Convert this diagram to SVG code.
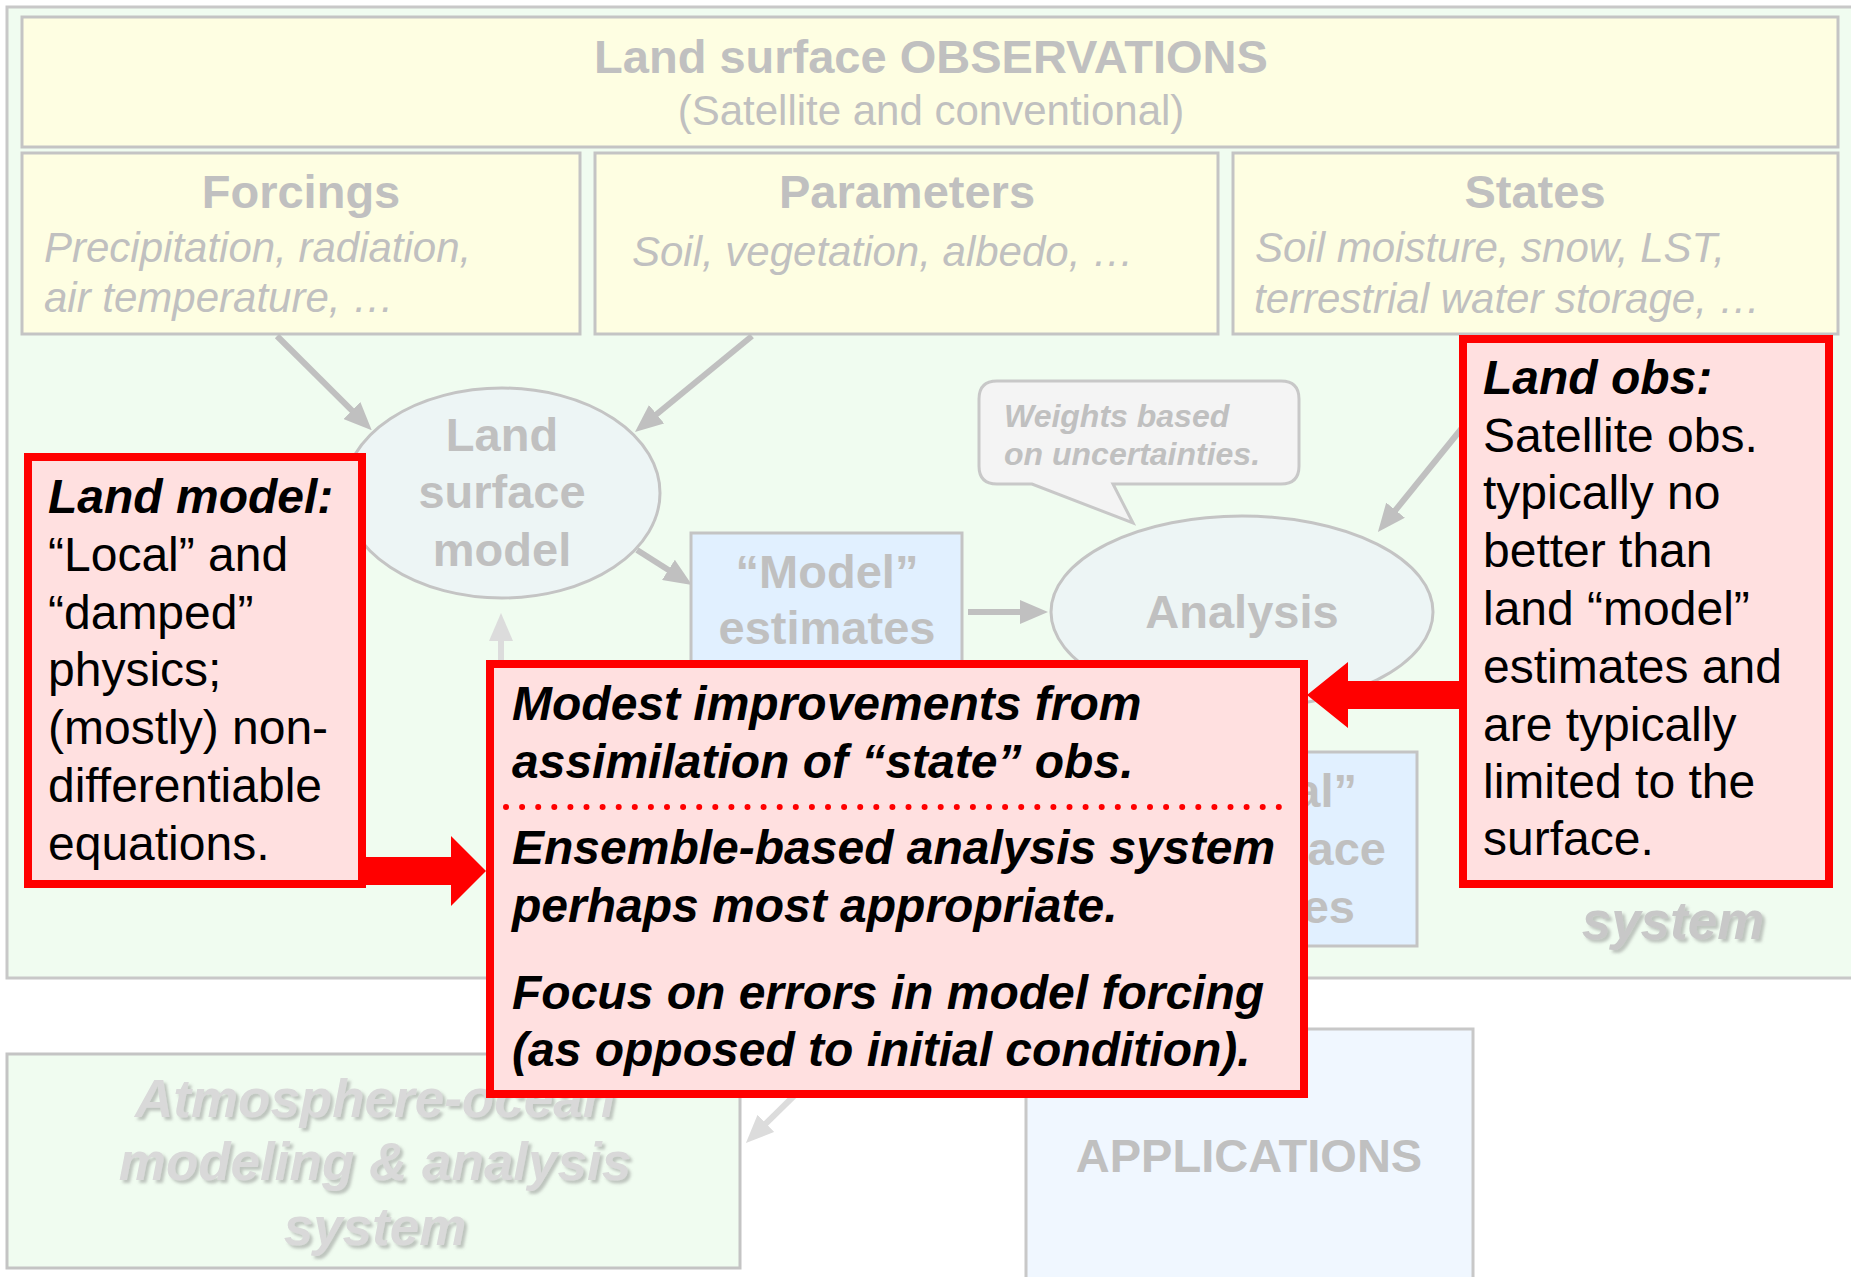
<svg xmlns="http://www.w3.org/2000/svg" width="1851" height="1277" viewBox="0 0 1851 1277">
<defs>
<style>
text{font-family:"Liberation Sans",Arial,Helvetica,sans-serif}
.box{fill:#fefee2;stroke:#c4c4c4;stroke-width:3}
.hd{font-size:47px;font-weight:bold;fill:#c0c0c0;text-anchor:middle}
.it{font-size:42px;font-style:italic;fill:#c0c0c0}
.ell{fill:#edf5f5;stroke:#c4c4c4;stroke-width:3}
.est{fill:#e1f0ff;stroke:#c4c4c4;stroke-width:3}
.conn{stroke:#c0c0c0;stroke-width:6;fill:none;marker-end:url(#ah)}
.faint{stroke:#dcdcdc;stroke-width:6;fill:none;marker-end:url(#ahf)}
.red{fill:#ffe0e0;stroke:#ff0000;stroke-width:8}
.rt{font-size:48px;fill:#000000}
.bi{font-weight:bold;font-style:italic}
.sys{font-size:53px;font-weight:bold;font-style:italic;text-anchor:middle;filter:url(#sh)}
</style>
<marker id="ah" viewBox="0 0 28 24" refX="2" refY="12" markerWidth="28" markerHeight="24" markerUnits="userSpaceOnUse" orient="auto"><path d="M0,0 L28,12 L0,24 z" fill="#c0c0c0"/></marker>
<marker id="ahf" viewBox="0 0 28 24" refX="2" refY="12" markerWidth="28" markerHeight="24" markerUnits="userSpaceOnUse" orient="auto"><path d="M0,0 L28,12 L0,24 z" fill="#dcdcdc"/></marker>
<filter id="sh" x="-5%" y="-10%" width="115%" height="140%"><feDropShadow dx="3" dy="3" stdDeviation="1.5" flood-color="#808080" flood-opacity="0.45"/></filter>
</defs>
<rect width="1851" height="1277" fill="#ffffff"/>
<g id="land-system">
<rect x="7" y="7" width="1870" height="971" fill="#f0fcf0" stroke="#c8c8c8" stroke-width="3"/>
<text class="sys" x="1673" y="939" fill="#c8c8c8">system</text>
</g>
<g id="observations">
<rect class="box" x="22" y="17" width="1816" height="130"/>
<text class="hd" x="931" y="73">Land surface OBSERVATIONS</text>
<text x="931" y="125" font-size="42" fill="#c0c0c0" text-anchor="middle">(Satellite and conventional)</text>
</g>
<g id="forcings">
<rect class="box" x="22" y="153" width="558" height="181"/>
<text class="hd" x="301" y="208">Forcings</text>
<text class="it" x="44" y="262">Precipitation, radiation,</text>
<text class="it" x="44" y="312">air temperature, …</text>
</g>
<g id="parameters">
<rect class="box" x="595" y="153" width="623" height="181"/>
<text class="hd" x="907" y="208">Parameters</text>
<text class="it" x="632" y="266">Soil, vegetation, albedo, …</text>
</g>
<g id="states">
<rect class="box" x="1233" y="153" width="605" height="181"/>
<text class="hd" x="1535" y="208">States</text>
<text class="it" x="1255" y="262">Soil moisture, snow, LST,</text>
<text class="it" x="1254" y="313">terrestrial water storage, …</text>
</g>
<g id="connectors">
<line class="conn" x1="277" y1="336" x2="353.3" y2="411.9"/>
<line class="conn" x1="752" y1="336" x2="655.1" y2="415.5"/>
<line class="conn" x1="637" y1="550" x2="670.1" y2="571" stroke-width="7"/>
<line class="conn" x1="968" y1="612" x2="1022" y2="612" stroke-width="8"/>
<line class="conn" x1="1462" y1="428" x2="1394.3" y2="511.7"/>
<line class="faint" x1="501" y1="664" x2="501" y2="639"/>
<line class="faint" x1="800" y1="1090" x2="764.5" y2="1124.8"/>
</g>
<g id="land-surface-model">
<ellipse class="ell" cx="502" cy="493" rx="158" ry="105"/>
<text class="hd" x="502" y="451">Land</text>
<text class="hd" x="502" y="508">surface</text>
<text class="hd" x="502" y="566">model</text>
</g>
<g id="weights-callout">
<path d="M997,381 H1281 Q1299,381 1299,399 V466 Q1299,484 1281,484 H1113 L1133,523 L1032,484 H997 Q979,484 979,466 V399 Q979,381 997,381 Z" fill="#f4f4f4" stroke="#c8c8c8" stroke-width="3"/>
<text x="1004" y="427" font-size="32" font-weight="bold" font-style="italic" fill="#c0c0c0">Weights based</text>
<text x="1004" y="465" font-size="32" font-weight="bold" font-style="italic" fill="#c0c0c0">on uncertainties.</text>
</g>
<g id="model-estimates">
<rect class="est" x="691" y="533" width="271" height="160"/>
<text class="hd" x="827" y="588">“Model”</text>
<text class="hd" x="827" y="644">estimates</text>
</g>
<g id="analysis">
<ellipse class="ell" cx="1242" cy="612" rx="191" ry="96"/>
<text class="hd" x="1242" y="628">Analysis</text>
</g>
<g id="final-estimates">
<rect class="est" x="1148" y="752" width="269" height="194"/>
<text class="hd" x="1357" y="807" style="text-anchor:end">al”</text>
<text class="hd" x="1386" y="865" style="text-anchor:end">ace</text>
<text class="hd" x="1355" y="923" style="text-anchor:end">es</text>
</g>
<g id="atmosphere-ocean">
<rect x="7" y="1054" width="733" height="214" fill="#f0fcf0" stroke="#c4c4c4" stroke-width="3"/>
<text class="sys" x="375" y="1117" fill="#d9d9d9">Atmosphere-ocean</text>
<text class="sys" x="375" y="1180" fill="#d9d9d9">modeling &amp; analysis</text>
<text class="sys" x="375" y="1245" fill="#d9d9d9">system</text>
</g>
<g id="applications">
<rect x="1026" y="1029" width="447" height="270" fill="#f0f7ff" stroke="#c8c8c8" stroke-width="3"/>
<text class="hd" x="1249" y="1172">APPLICATIONS</text>
</g>
<g id="red-arrows">
<polygon points="362,857 451,857 451,836 486,871 451,906 451,885 362,885" fill="#ff0000"/>
<polygon points="1462,681 1348,681 1348,662 1307,695 1348,728 1348,709 1462,709" fill="#ff0000"/>
</g>
<g id="land-model-note">
<rect class="red" x="28" y="457" width="334" height="427"/>
<text class="rt bi" x="48" y="513">Land model:</text>
<text class="rt" x="48" y="571">“Local” and</text>
<text class="rt" x="48" y="629">“damped”</text>
<text class="rt" x="48" y="686">physics;</text>
<text class="rt" x="48" y="744">(mostly) non-</text>
<text class="rt" x="48" y="802">differentiable</text>
<text class="rt" x="48" y="860">equations.</text>
</g>
<g id="land-obs-note">
<rect class="red" x="1463" y="339" width="366" height="545"/>
<text class="rt bi" x="1483" y="394">Land obs:</text>
<text class="rt" x="1483" y="452">Satellite obs.</text>
<text class="rt" x="1483" y="509">typically no</text>
<text class="rt" x="1483" y="567">better than</text>
<text class="rt" x="1483" y="625">land “model”</text>
<text class="rt" x="1483" y="683">estimates and</text>
<text class="rt" x="1483" y="741">are typically</text>
<text class="rt" x="1483" y="798">limited to the</text>
<text class="rt" x="1483" y="855">surface.</text>
</g>
<g id="assimilation-note">
<rect class="red" x="490" y="664" width="814" height="430"/>
<text class="rt bi" x="512" y="720">Modest improvements from</text>
<text class="rt bi" x="512" y="778">assimilation of “state” obs.</text>
<line x1="506" y1="807" x2="1280" y2="807" stroke="#ff0000" stroke-width="6" stroke-linecap="round" stroke-dasharray="0 16.1"/>
<text class="rt bi" x="512" y="864">Ensemble-based analysis system</text>
<text class="rt bi" x="512" y="922">perhaps most appropriate.</text>
<text class="rt bi" x="512" y="1009">Focus on errors in model forcing</text>
<text class="rt bi" x="512" y="1066">(as opposed to initial condition).</text>
</g>
</svg>
